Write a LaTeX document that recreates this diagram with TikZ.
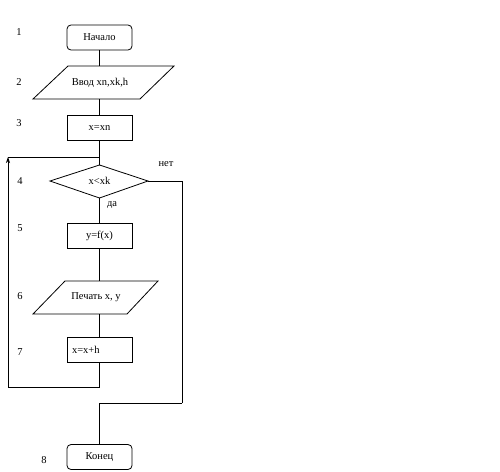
\documentclass[tikz,border=0pt]{standalone}
\usepackage{fontspec}
\setmainfont{Liberation Serif}
\usetikzlibrary{arrows.meta}
\begin{document}
\begin{tikzpicture}[x=1pt,y=-1pt,
  lbl/.style={font=\fontsize{10.5}{12}\selectfont, inner sep=0pt},
  ln/.style={draw=black, line width=0.8pt},
  blk/.style={ln, minimum width=65pt, minimum height=25pt, inner sep=0pt, font=\fontsize{10.5}{12}\selectfont}]
\useasboundingbox (0,0) rectangle (500,471);
\fill[white] (0,0) rectangle (500,471);
% nodes
\node[blk, rounded corners=4pt] (start) at (99.5,37.5) {Начало};
\coordinate (p1a) at (68,66); \coordinate (p1b) at (174,66);
\coordinate (p1c) at (140,99); \coordinate (p1d) at (33,99);
\draw[ln] (p1a) -- (p1b) -- (p1c) -- (p1d) -- cycle;
\node[lbl] (in) at (100,82.5) {Ввод xn,xk,h};
\node[blk] (xn) at (99.5,128) {x=xn};
\coordinate (dl) at (50,181); \coordinate (dr) at (148,181);
\coordinate (dt) at (99.5,165); \coordinate (db) at (99.5,198);
\draw[ln] (dl) -- (dt) -- (dr) -- (db) -- cycle;
\node[lbl] (cond) at (99.5,181) {x<xk};
\node[blk] (fx) at (99.5,235.5) {y=f(x)};
\coordinate (p2a) at (65,281); \coordinate (p2b) at (158,281);
\coordinate (p2c) at (127,314); \coordinate (p2d) at (33,314);
\draw[ln] (p2a) -- (p2b) -- (p2c) -- (p2d) -- cycle;
\node[lbl] (pr) at (96,297.5) {Печать x, y};
\node[blk, inner xsep=5pt, text width=55pt, align=left] (inc) at (99.5,350) {x=x+h};
\node[blk, rounded corners=4pt] (end) at (99.5,457) {Конец};
% connectors
\draw[ln] (start.south) -- (99.5,66);
\draw[ln] (99.5,99) -- (xn.north);
\draw[ln] (xn.south) -- (dt);
\draw[ln] (db) -- (fx.north);
\draw[ln] (fx.south) -- (99.5,281);
\draw[ln] (99.5,314) -- (inc.north);
\coordinate (lb) at (8,387); \coordinate (lt) at (8,157);
\draw[ln] (inc.south) |- (lb);
\draw[ln, -{Stealth[length=6pt,width=4pt]}] (lb) -- (lt);
\draw[ln] (lt) -- (99.5,157);
\coordinate (rr) at (182,403);
\draw[ln] (dr) -| (rr);
\draw[ln] (rr) -| (end.north);
% labels
\node[lbl] (yes) at (112,205) {да};
\node[lbl] (no) at (166,164) {нет};
\node[lbl] (n1) at (19,32) {1};
\node[lbl] (n2) at (19,82) {2};
\node[lbl] (n3) at (19,123) {3};
\node[lbl] (n4) at (20,181) {4};
\node[lbl] (n5) at (20,228) {5};
\node[lbl] (n6) at (20,296) {6};
\node[lbl] (n7) at (20,352) {7};
\node[lbl] (n8) at (44,460) {8};
\end{tikzpicture}
\end{document}
